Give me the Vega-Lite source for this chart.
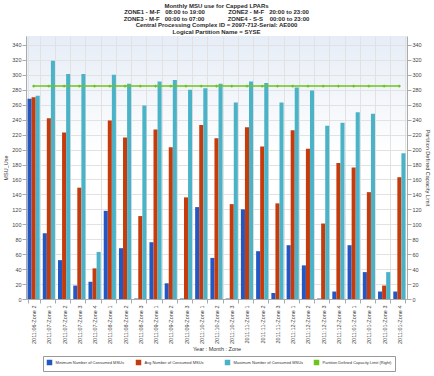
{
  "$schema": "https://vega.github.io/schema/vega-lite/v6.json",
  "width": 381,
  "height": 263,
  "autosize": {"type": "none"},
  "padding": {"left": 26, "top": 36, "right": 27, "bottom": 77},
  "background": "#ffffff",
  "title": {
    "text": [
      "Monthly MSU use for Capped LPARs",
      "ZONE1 - M-F\u00a0\u00a0\u00a008:00 to 19:00\u00a0\u00a0\u00a0\u00a0\u00a0\u00a0\u00a0\u00a0\u00a0\u00a0\u00a0\u00a0\u00a0\u00a0ZONE2 - M-F\u00a0\u00a0\u00a020:00 to 23:00",
      "ZONE3 - M-F\u00a0\u00a0\u00a000:00 to 07:00\u00a0\u00a0\u00a0\u00a0\u00a0\u00a0\u00a0\u00a0\u00a0\u00a0\u00a0\u00a0\u00a0\u00a0ZONE4 - S-S\u00a0\u00a0\u00a0\u00a000:00 to 23:00",
      "Central Processing Complex ID = 2097-712-Serial: AE000",
      "Logical Partition Name = SYSE"
    ],
    "font": "Liberation Sans",
    "fontSize": 6,
    "fontWeight": "bold",
    "color": "#2a2a2a",
    "lineHeight": 6.6,
    "anchor": "middle",
    "offset": 1
  },
  "config": {
    "view": {
      "stroke": null,
      "fill": {"gradient": "linear", "x1": 0, "y1": 0, "x2": 0, "y2": 1, "stops": [{"offset": 0, "color": "#e6edf7"}, {"offset": 0.45, "color": "#ffffff"}]}
    },
    "font": "Liberation Sans",
    "axis": {
      "labelFont": "Liberation Sans",
      "titleFont": "Liberation Sans",
      "labelFontSize": 5.5,
      "titleFontSize": 5.5,
      "titleFontWeight": "normal",
      "labelColor": "#444444",
      "titleColor": "#333333",
      "domainColor": "#aaaaaa",
      "tickColor": "#aaaaaa",
      "gridColor": "#e2e2e2",
      "tickSize": 4
    }
  },
  "data": {
    "values": [
      {"period": "2011:06-Zone 2", "Minimum Number of Consumed MSUs": 268, "Avg Number of Consumed MSUs": 270, "Maximum Number of Consumed MSUs": 272, "limit": 285},
      {"period": "2011:07-Zone 1", "Minimum Number of Consumed MSUs": 88, "Avg Number of Consumed MSUs": 242, "Maximum Number of Consumed MSUs": 319, "limit": 285},
      {"period": "2011:07-Zone 2", "Minimum Number of Consumed MSUs": 52, "Avg Number of Consumed MSUs": 223, "Maximum Number of Consumed MSUs": 301, "limit": 285},
      {"period": "2011:07-Zone 3", "Minimum Number of Consumed MSUs": 18, "Avg Number of Consumed MSUs": 149, "Maximum Number of Consumed MSUs": 301, "limit": 285},
      {"period": "2011:07-Zone 4", "Minimum Number of Consumed MSUs": 23, "Avg Number of Consumed MSUs": 41, "Maximum Number of Consumed MSUs": 63, "limit": 285},
      {"period": "2011:08-Zone 1", "Minimum Number of Consumed MSUs": 118, "Avg Number of Consumed MSUs": 239, "Maximum Number of Consumed MSUs": 300, "limit": 285},
      {"period": "2011:08-Zone 2", "Minimum Number of Consumed MSUs": 68, "Avg Number of Consumed MSUs": 216, "Maximum Number of Consumed MSUs": 288, "limit": 285},
      {"period": "2011:08-Zone 3", "Minimum Number of Consumed MSUs": 0.6, "Avg Number of Consumed MSUs": 111, "Maximum Number of Consumed MSUs": 259, "limit": 285},
      {"period": "2011:09-Zone 1", "Minimum Number of Consumed MSUs": 76, "Avg Number of Consumed MSUs": 227, "Maximum Number of Consumed MSUs": 291, "limit": 285},
      {"period": "2011:09-Zone 2", "Minimum Number of Consumed MSUs": 21, "Avg Number of Consumed MSUs": 203, "Maximum Number of Consumed MSUs": 293, "limit": 285},
      {"period": "2011:09-Zone 3", "Minimum Number of Consumed MSUs": 0.6, "Avg Number of Consumed MSUs": 136, "Maximum Number of Consumed MSUs": 280, "limit": 285},
      {"period": "2011:10-Zone 1", "Minimum Number of Consumed MSUs": 123, "Avg Number of Consumed MSUs": 233, "Maximum Number of Consumed MSUs": 282, "limit": 285},
      {"period": "2011:10-Zone 2", "Minimum Number of Consumed MSUs": 55, "Avg Number of Consumed MSUs": 215, "Maximum Number of Consumed MSUs": 288, "limit": 285},
      {"period": "2011:10-Zone 3", "Minimum Number of Consumed MSUs": 0.6, "Avg Number of Consumed MSUs": 127, "Maximum Number of Consumed MSUs": 263, "limit": 285},
      {"period": "2011:11-Zone 1", "Minimum Number of Consumed MSUs": 120, "Avg Number of Consumed MSUs": 230, "Maximum Number of Consumed MSUs": 291, "limit": 285},
      {"period": "2011:11-Zone 2", "Minimum Number of Consumed MSUs": 64, "Avg Number of Consumed MSUs": 204, "Maximum Number of Consumed MSUs": 289, "limit": 285},
      {"period": "2011:11-Zone 3", "Minimum Number of Consumed MSUs": 8, "Avg Number of Consumed MSUs": 128, "Maximum Number of Consumed MSUs": 263, "limit": 285},
      {"period": "2011:12-Zone 1", "Minimum Number of Consumed MSUs": 72, "Avg Number of Consumed MSUs": 226, "Maximum Number of Consumed MSUs": 283, "limit": 285},
      {"period": "2011:12-Zone 2", "Minimum Number of Consumed MSUs": 45, "Avg Number of Consumed MSUs": 201, "Maximum Number of Consumed MSUs": 279, "limit": 285},
      {"period": "2011:12-Zone 3", "Minimum Number of Consumed MSUs": 0.6, "Avg Number of Consumed MSUs": 101, "Maximum Number of Consumed MSUs": 232, "limit": 285},
      {"period": "2011:12-Zone 4", "Minimum Number of Consumed MSUs": 10, "Avg Number of Consumed MSUs": 182, "Maximum Number of Consumed MSUs": 236, "limit": 285},
      {"period": "2011:01-Zone 1", "Minimum Number of Consumed MSUs": 72, "Avg Number of Consumed MSUs": 176, "Maximum Number of Consumed MSUs": 250, "limit": 285},
      {"period": "2011:01-Zone 2", "Minimum Number of Consumed MSUs": 36, "Avg Number of Consumed MSUs": 143, "Maximum Number of Consumed MSUs": 248, "limit": 285},
      {"period": "2011:01-Zone 3", "Minimum Number of Consumed MSUs": 10, "Avg Number of Consumed MSUs": 18, "Maximum Number of Consumed MSUs": 36, "limit": 285},
      {"period": "2011:01-Zone 4", "Minimum Number of Consumed MSUs": 10, "Avg Number of Consumed MSUs": 163, "Maximum Number of Consumed MSUs": 195, "limit": 285}
    ]
  },
  "layer": [
    {
      "transform": [
        {"fold": ["Minimum Number of Consumed MSUs", "Avg Number of Consumed MSUs", "Maximum Number of Consumed MSUs"], "as": ["series", "value"]}
      ],
      "mark": {"type": "bar"},
      "encoding": {
        "x": {
          "field": "period", "type": "nominal", "sort": null,
          "scale": {"paddingInner": 0.2, "paddingOuter": 0.1},
          "axis": {"labelAngle": -90, "labelPadding": 2, "tickBand": "extent", "grid": true, "title": "Year : Month : Zone", "titlePadding": 3, "labelLimit": 60}
        },
        "xOffset": {"field": "series", "type": "nominal", "sort": ["Minimum Number of Consumed MSUs", "Avg Number of Consumed MSUs", "Maximum Number of Consumed MSUs"]},
        "y": {
          "field": "value", "type": "quantitative",
          "scale": {"domain": [0, 352], "nice": false},
          "axis": {"title": "MSU_Use", "values": [0,20,40,60,80,100,120,140,160,180,200,220,240,260,280,300,320,340], "labelPadding": 1, "titlePadding": 3}
        },
        "color": {
          "field": "series", "type": "nominal",
          "scale": {
            "domain": ["Minimum Number of Consumed MSUs", "Avg Number of Consumed MSUs", "Maximum Number of Consumed MSUs", "Partition Defined Capacity Limit (Right)"],
            "range": ["#2357c4", "#c63b0c", "#4bb3c7", "#6cc41c"]
          },
          "legend": {
            "title": null,
            "orient": "none",
            "legendX": 17,
            "legendY": 320,
            "direction": "horizontal",
            "columns": 4,
            "columnPadding": 8,
            "gridAlign": "all",
            "symbolType": "square",
            "symbolSize": 16,
            "labelFontSize": 4,
            "labelFont": "Liberation Sans",
            "labelColor": "#333333",
            "labelOffset": 3,
            "labelLimit": 200,
            "strokeColor": "#999999",
            "padding": 3.5
          }
        }
      }
    },
    {
      "mark": {"type": "line", "strokeWidth": 1.5, "point": {"shape": "cross", "size": 8, "filled": true}},
      "encoding": {
        "x": {"field": "period", "type": "nominal", "sort": null},
        "y": {
          "field": "limit", "type": "quantitative",
          "scale": {"domain": [0, 352], "nice": false},
          "axis": {"orient": "right", "title": "Partition Defined Capacity Limit", "grid": false, "values": [0,20,40,60,80,100,120,140,160,180,200,220,240,260,280,300,320,340], "labelPadding": 1, "titlePadding": 3}
        },
        "color": {"datum": "Partition Defined Capacity Limit (Right)"}
      }
    }
  ],
  "resolve": {"scale": {"y": "independent"}}
}
